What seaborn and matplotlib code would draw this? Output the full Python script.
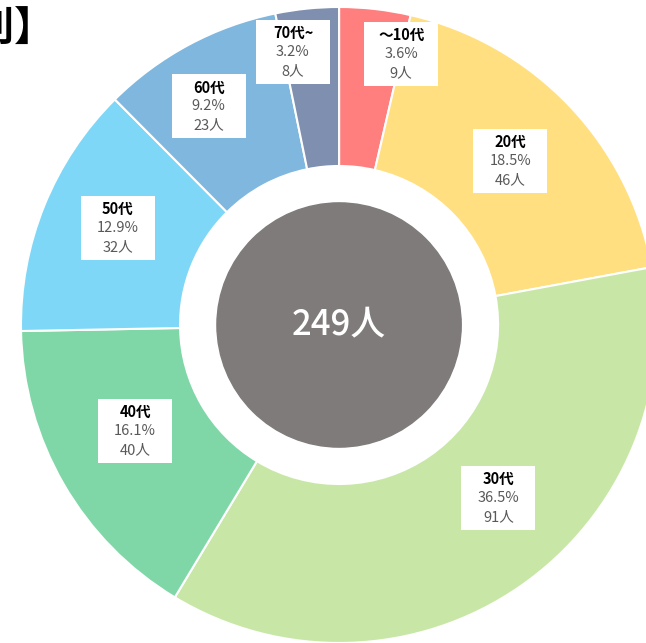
import numpy as np
import matplotlib.pyplot as plt
import seaborn as sns
from matplotlib.patches import Rectangle, Circle
from matplotlib.transforms import ScaledTranslation

# データ
ages = ['～10代', '20代', '30代', '40代', '50代', '60代', '70代~']
counts = [9, 46, 91, 40, 32, 23, 8]
percents = [3.6, 18.5, 36.5, 16.1, 12.9, 9.2, 3.2]
colors = ['#FF7F7F', '#FFDF7F', '#C8E7A7', '#7FD7A7', '#7FD7F7', '#7FB7DF', '#7F8FAF']

# ラベル位置（半径・角度のずれ）
label_r = [0.874, 0.745, 0.739, 0.723, 0.759, 0.80, 0.871]
label_shift = [-6.4, 0, 8, -2.5, -1.6, 2.6, 3.8]

sns.set_theme(style='white')
plt.rcParams['font.family'] = ['Noto Sans CJK JP', 'DejaVu Sans']

fig = plt.figure(figsize=(6.46, 6.43), dpi=100)
ax = fig.add_axes([0, 0, 1, 1])

wedges, _ = ax.pie(counts, colors=colors, startangle=90, counterclock=False, radius=1,
                   wedgeprops=dict(width=0.5, edgecolor='white', linewidth=1.5))

# 中央の円
ax.add_patch(Circle((0, 0), 0.384, color='#7F7B7A', zorder=2))
ax.text(0, 0, f'{sum(counts)}人', ha='center', va='center', fontsize=25,
        fontweight='medium', color='white', zorder=3)

for w, age, pct, n, r, sh in zip(wedges, ages, percents, counts, label_r, label_shift):
    mid = np.deg2rad((w.theta1 + w.theta2) / 2 + sh)
    x, y = r * np.cos(mid), r * np.sin(mid)
    tr = fig.dpi_scale_trans + ScaledTranslation(x, y, ax.transData)
    ax.add_patch(Rectangle((-0.37, -0.32), 0.74, 0.64, transform=tr,
                           facecolor='white', edgecolor='none', zorder=3))
    ax.annotate(age, (x, y), xytext=(0, 13.7), textcoords='offset points',
                ha='center', va='center', fontsize=10.5, fontweight='bold',
                color='black', zorder=4)
    ax.annotate(f'{pct}%', (x, y), xytext=(0, 0), textcoords='offset points',
                ha='center', va='center', fontsize=10.5, color='#595959', zorder=4)
    ax.annotate(f'{n}人', (x, y), xytext=(0, -13.7), textcoords='offset points',
                ha='center', va='center', fontsize=10.5, color='#595959', zorder=4)

ax.set_aspect('auto')
ax.set_xlim(-1.066, 0.965)
ax.set_ylim(-1.0, 1.022)
ax.axis('off')

fig.text(-147 / 646, 1 - 28 / 643, '【年代別】', ha='left', va='center',
         fontsize=29, fontweight='bold', color='black')

fig.savefig('out.png', dpi=100)
